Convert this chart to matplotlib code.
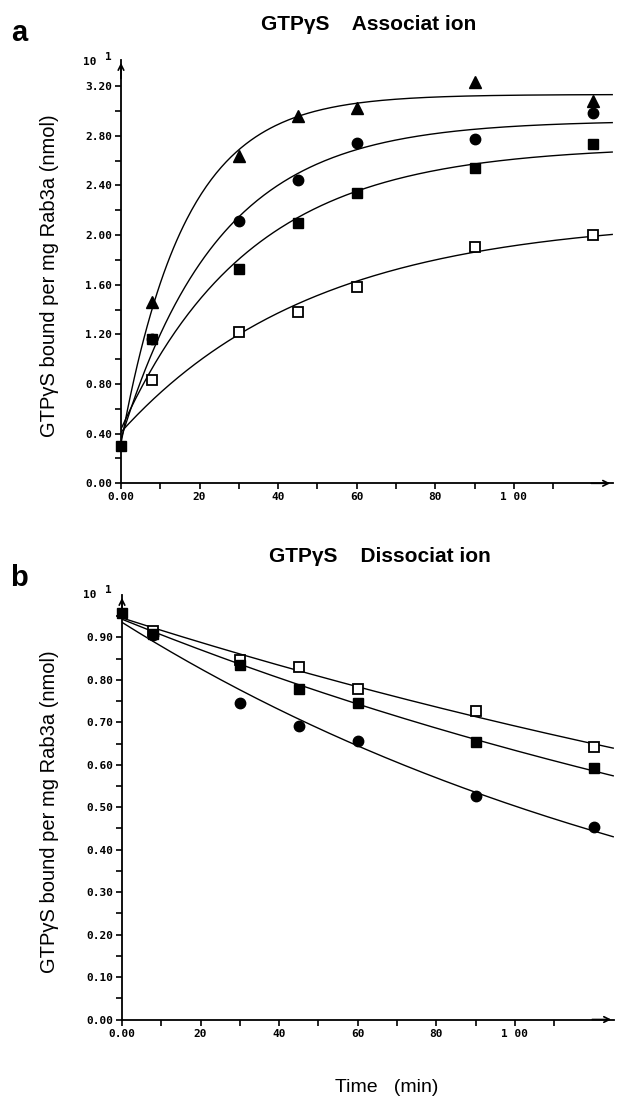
import numpy as np
import matplotlib
matplotlib.use('Agg')
import matplotlib.pyplot as plt
from matplotlib.ticker import FixedLocator, FixedFormatter

W, H = 619, 1099

# ---- data ----
# a: GTPgS association, nmol per mg Rab3a (x10)
t_a = [8, 30, 45, 60, 90, 120]
start_a = 0.30  # t = 0, shared starting point
tri_a = [1.46, 2.64, 2.96, 3.02, 3.23, 3.08]
circ_a = [1.16, 2.11, 2.44, 2.74, 2.77, 2.98]
sq_a = [1.16, 1.73, 2.10, 2.34, 2.54, 2.73]
open_a = [0.83, 1.22, 1.38, 1.58, 1.90, 2.00]

# b: GTPgS dissociation
t_b = [8, 30, 45, 60, 90, 120]
start_b = 0.958
open_b = [0.915, 0.846, 0.831, 0.778, 0.727, 0.643]
sq_b = [0.909, 0.834, 0.779, 0.745, 0.654, 0.592]
circ_b = [0.905, 0.746, 0.692, 0.656, 0.527, 0.453]

x_ticks = [0, 10, 20, 30, 40, 50, 60, 70, 80, 90, 100, 110]
x_labels = ['0.00', '', '20', '', '40', '', '60', '', '80', '', '1 00', '']


def fit_assoc(t, y):
    # y = y0 + A*(1 - exp(-k t)), grid over k, linear lstsq for y0, A
    t = np.asarray(t, float)
    y = np.asarray(y, float)
    best = None
    for k in np.linspace(0.005, 0.25, 500):
        X = np.column_stack([np.ones_like(t), 1 - np.exp(-k * t)])
        coef = np.linalg.lstsq(X, y, rcond=None)[0]
        sse = np.sum((X @ coef - y) ** 2)
        if best is None or sse < best[0]:
            best = (sse, coef[0], coef[1], k)
    return best[1:]


def fit_decay(t, y):
    # y = A*exp(-k t), log-linear
    slope, icpt = np.polyfit(np.asarray(t, float), np.log(y), 1)
    return np.exp(icpt), -slope


def px(x, y):
    return x / W, 1 - y / H


plt.rcParams['font.family'] = ['Liberation Sans', 'DejaVu Sans']

fig = plt.figure(figsize=(W / 100, H / 100), dpi=100)
ax_a = fig.add_axes([121 / W, 1 - 483.3 / H, (613 - 121) / W, (483.3 - 60) / H])
ax_b = fig.add_axes([122 / W, 1 - 1019.5 / H, (614 - 122) / W, (1019.5 - 595) / H])

mono = 'DejaVu Sans Mono'
tick_size = 8

for ax in (ax_a, ax_b):
    ax.set_xlim(0, 125.2)
    for s in ['top', 'right']:
        ax.spines[s].set_visible(False)
    for s in ['left', 'bottom']:
        ax.spines[s].set_linewidth(1.3)
    ax.xaxis.set_major_locator(FixedLocator(x_ticks))
    ax.xaxis.set_major_formatter(FixedFormatter(x_labels))
    ax.tick_params(direction='out', length=4.5, width=1.2, pad=2)
    ax.annotate('', xy=(1.0, 0), xycoords='axes fraction', xytext=(0.95, 0),
                arrowprops=dict(arrowstyle='->', lw=1.2, color='k'))
    ax.annotate('', xy=(0, 1.0), xycoords='axes fraction', xytext=(0, 0.95),
                arrowprops=dict(arrowstyle='->', lw=1.2, color='k'))

# ---- panel a ----
ax_a.set_ylim(0, 3.41)
ya = np.round(np.arange(0, 3.21, 0.2), 2)
ax_a.yaxis.set_major_locator(FixedLocator(ya))
ax_a.yaxis.set_major_formatter(FixedFormatter(
    ['%.2f' % v if round(v / 0.4, 3) % 1 == 0 else '' for v in ya]))

tt = np.linspace(0, 125, 300)
for ys in [tri_a, circ_a, sq_a, open_a]:
    y0, A, k = fit_assoc([0] + t_a, [start_a] + ys)
    ax_a.plot(tt, y0 + A * (1 - np.exp(-k * tt)), color='k', lw=1.0, zorder=2)

ax_a.plot(t_a, tri_a, '^', color='k', ms=8, zorder=3, clip_on=False)
ax_a.plot(t_a, circ_a, 'o', color='k', ms=7.5, zorder=3)
ax_a.plot([0] + t_a, [start_a] + sq_a, 's', color='k', ms=7, zorder=4, clip_on=False)
ax_a.plot(t_a, open_a, 's', mfc='white', mec='k', mew=1.3, ms=7, zorder=3)

# ---- panel b ----
ax_b.set_ylim(0, 1.0)
yb = np.round(np.arange(0, 0.951, 0.05), 2)
ax_b.yaxis.set_major_locator(FixedLocator(yb))
ax_b.yaxis.set_major_formatter(FixedFormatter(
    ['%.2f' % v if round(v / 0.1, 3) % 1 == 0 else '' for v in yb]))

for ys in [open_b, sq_b, circ_b]:
    A, k = fit_decay([0] + t_b, [start_b] + ys)
    ax_b.plot(tt, A * np.exp(-k * tt), color='k', lw=1.0, zorder=2)

ax_b.plot(t_b, open_b, 's', mfc='white', mec='k', mew=1.3, ms=7, zorder=3)
ax_b.plot([0] + t_b, [start_b] + sq_b, 's', color='k', ms=7, zorder=4, clip_on=False)
ax_b.plot(t_b, circ_b, 'o', color='k', ms=7.5, zorder=3)

for ax in (ax_a, ax_b):
    for lab in ax.get_xticklabels() + ax.get_yticklabels():
        lab.set_fontfamily(mono)
        lab.set_fontweight('bold')
        lab.set_fontsize(tick_size)

# ---- texts ----
fig.text(*px(19, 33), 'a', fontsize=21, fontweight='bold', ha='center', va='center')
fig.text(*px(19, 578), 'b', fontsize=21, fontweight='bold', ha='center', va='center')
fig.text(*px(369, 25), 'GTPγS    Associat ion', fontsize=15, fontweight='bold',
         ha='center', va='center')
fig.text(*px(380, 557), 'GTPγS    Dissociat ion', fontsize=15, fontweight='bold',
         ha='center', va='center')

for y10 in (62, 595):
    fig.text(*px(90, y10), '10', fontsize=tick_size, family=mono, weight='bold',
             ha='center', va='center')
    fig.text(*px(108, y10 - 5), '1', fontsize=tick_size, family=mono, weight='bold',
             ha='center', va='center')

ylab = 'GTPγS bound per mg Rab3a (nmol)'
fig.text(*px(50, 276), ylab, fontsize=14.5, rotation=90, ha='center', va='center')
fig.text(*px(50, 812), ylab, fontsize=14.5, rotation=90, ha='center', va='center')
fig.text(*px(387, 1088), 'Time   (min)', fontsize=14, ha='center', va='center')

fig.savefig('out.png', dpi=100)
